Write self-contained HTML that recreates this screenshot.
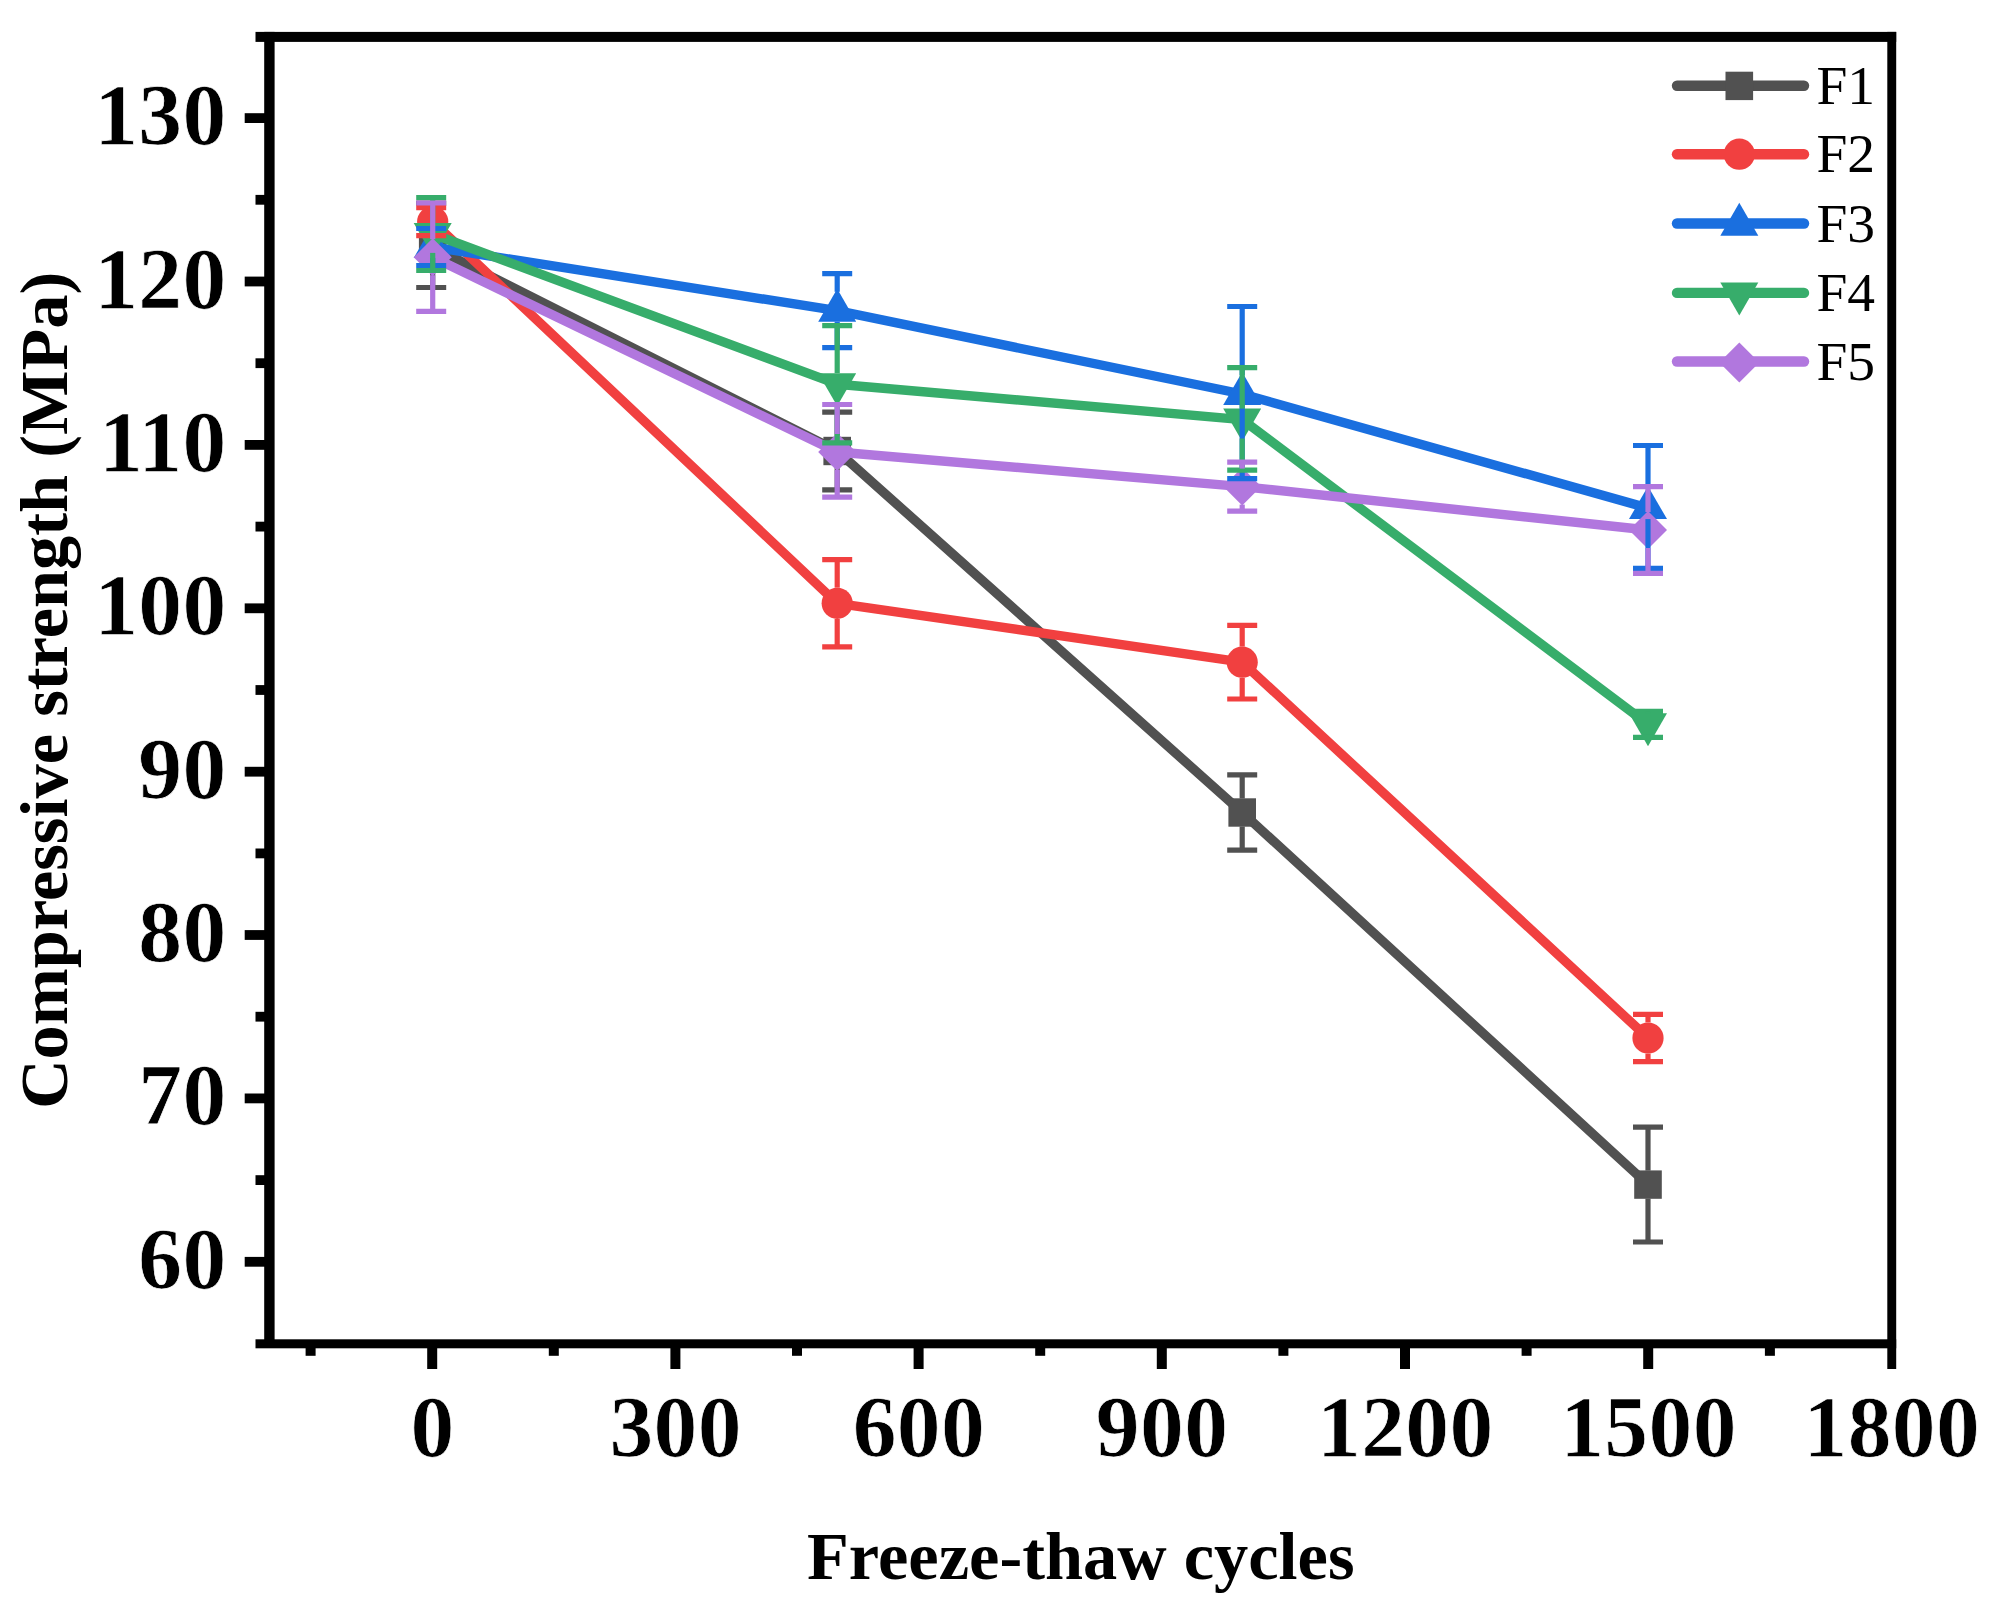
<!DOCTYPE html>
<html lang="en"><head><meta charset="utf-8"><title>Compressive strength vs freeze-thaw cycles</title>
<style>
html,body{margin:0;padding:0;background:#ffffff;}
body{width:1996px;height:1616px;overflow:hidden;}
svg{display:block;font-family:"Liberation Serif","Times New Roman",serif;}
.tk{font-weight:bold;font-size:87.5px;letter-spacing:0.4px;fill:#000;stroke:#fff;stroke-width:0.7px;}
.ttl{font-weight:bold;fill:#000;}
.lg{font-size:55.5px;fill:#000;}
</style></head><body>
<svg width="1996" height="1616" viewBox="0 0 1996 1616">
<rect width="1996" height="1616" fill="#ffffff"/>
<g><polyline points="432.7,247.0 837.2,451.0 1242.2,812.5 1648.0,1184.6" fill="none" stroke="#515151" stroke-width="9.4" stroke-linejoin="round"/>
<rect x="418.9" y="232.8" width="27.6" height="28.4" fill="#515151"/>
<rect x="823.4" y="436.8" width="27.6" height="28.4" fill="#515151"/>
<rect x="1228.4" y="798.3" width="27.6" height="28.4" fill="#515151"/>
<rect x="1634.2" y="1170.4" width="27.6" height="28.4" fill="#515151"/>
</g>
<g stroke="#515151" fill="none">
<path stroke-width="5.2" d="M416.2,203.0H446.2M416.2,287.5H446.2"/>
<path stroke-width="5.2" d="M432.7,203.0V233.0"/>
<path stroke-width="5.2" d="M432.7,261.0V287.5"/>
<path stroke-width="5.2" d="M822.2,412.2H852.2M822.2,489.8H852.2"/>
<path stroke-width="5.2" d="M837.2,412.2V437.0"/>
<path stroke-width="5.2" d="M837.2,465.0V489.8"/>
<path stroke-width="5.2" d="M1227.2,774.9H1257.2M1227.2,850.1H1257.2"/>
<path stroke-width="5.2" d="M1242.2,774.9V798.5"/>
<path stroke-width="5.2" d="M1242.2,826.5V850.1"/>
<path stroke-width="5.2" d="M1633.0,1127.2H1663.0M1633.0,1242.0H1663.0"/>
<path stroke-width="5.2" d="M1648.0,1127.2V1170.6"/>
<path stroke-width="5.2" d="M1648.0,1198.6V1242.0"/>
</g>
<g><polyline points="432.7,221.7 837.2,603.3 1242.2,662.2 1648.0,1038.0" fill="none" stroke="#F14040" stroke-width="9.4" stroke-linejoin="round"/>
<circle cx="432.7" cy="221.7" r="15.6" fill="#F14040"/>
<circle cx="837.2" cy="603.3" r="15.6" fill="#F14040"/>
<circle cx="1242.2" cy="662.2" r="15.6" fill="#F14040"/>
<circle cx="1648.0" cy="1038.0" r="15.6" fill="#F14040"/>
</g>
<g><polyline points="432.7,247.0 837.2,310.7 1242.2,394.0 1648.0,508.1" fill="none" stroke="#1A6FDF" stroke-width="9.4" stroke-linejoin="round"/>
<polygon points="432.7,225.1 451.7,258.0 413.7,258.0" fill="#1A6FDF"/>
<polygon points="837.2,288.8 856.2,321.7 818.2,321.7" fill="#1A6FDF"/>
<polygon points="1242.2,372.1 1261.2,405.0 1223.2,405.0" fill="#1A6FDF"/>
<polygon points="1648.0,486.2 1667.0,519.1 1629.0,519.1" fill="#1A6FDF"/>
</g>
<g><polyline points="432.7,234.0 837.2,384.2 1242.2,419.6 1648.0,724.3" fill="none" stroke="#37AD6B" stroke-width="9.4" stroke-linejoin="round"/>
<polygon points="432.7,255.9 451.7,223.0 413.7,223.0" fill="#37AD6B"/>
<polygon points="837.2,406.1 856.2,373.2 818.2,373.2" fill="#37AD6B"/>
<polygon points="1242.2,441.5 1261.2,408.6 1223.2,408.6" fill="#37AD6B"/>
<polygon points="1648.0,746.2 1667.0,713.3 1629.0,713.3" fill="#37AD6B"/>
</g>
<g><polyline points="432.7,257.2 837.2,452.0 1242.2,486.6 1648.0,530.0" fill="none" stroke="#B177DE" stroke-width="9.4" stroke-linejoin="round"/>
<polygon points="432.7,238.2 451.7,257.2 432.7,276.2 413.7,257.2" fill="#B177DE"/>
<polygon points="837.2,433.0 856.2,452.0 837.2,471.0 818.2,452.0" fill="#B177DE"/>
<polygon points="1242.2,467.6 1261.2,486.6 1242.2,505.6 1223.2,486.6" fill="#B177DE"/>
<polygon points="1648.0,511.0 1667.0,530.0 1648.0,549.0 1629.0,530.0" fill="#B177DE"/>
</g>
<g stroke="#F14040" fill="none">
<path stroke-width="5.2" d="M416.2,207.7H446.2M416.2,235.7H446.2"/>
<path stroke-width="5.2" d="M822.2,559.7H852.2M822.2,646.9H852.2"/>
<path stroke-width="5.2" d="M837.2,559.7V587.7"/>
<path stroke-width="5.2" d="M837.2,618.9V646.9"/>
<path stroke-width="5.2" d="M1227.2,625.4H1257.2M1227.2,699.0H1257.2"/>
<path stroke-width="5.2" d="M1242.2,625.4V646.6"/>
<path stroke-width="5.2" d="M1242.2,677.8V699.0"/>
<path stroke-width="5.2" d="M1633.0,1014.4H1663.0M1633.0,1061.6H1663.0"/>
<path stroke-width="5.2" d="M1648.0,1014.4V1022.4"/>
<path stroke-width="5.2" d="M1648.0,1053.6V1061.6"/>
</g>
<g stroke="#1A6FDF" fill="none">
<path stroke-width="5.2" d="M416.2,228.5H446.2M416.2,265.5H446.2"/>
<path stroke-width="5.2" d="M432.7,258.0V265.5"/>
<path stroke-width="5.2" d="M822.2,273.7H852.2M822.2,347.7H852.2"/>
<path stroke-width="5.2" d="M837.2,273.7V291.8"/>
<path stroke-width="5.2" d="M837.2,321.7V347.7"/>
<path stroke-width="5.2" d="M1227.2,306.5H1257.2M1227.2,478.7H1257.2"/>
<path stroke-width="5.2" d="M1242.2,306.5V375.1"/>
<path stroke-width="5.2" d="M1242.2,405.0V478.7"/>
<path stroke-width="5.2" d="M1633.0,445.5H1663.0M1633.0,568.3H1663.0"/>
<path stroke-width="5.2" d="M1648.0,445.5V489.2"/>
<path stroke-width="5.2" d="M1648.0,519.1V568.3"/>
</g>
<g stroke="#37AD6B" fill="none">
<path stroke-width="5.2" d="M416.2,197.5H446.2M416.2,270.5H446.2"/>
<path stroke-width="5.2" d="M432.7,197.5V223.0"/>
<path stroke-width="5.2" d="M432.7,252.9V270.5"/>
<path stroke-width="5.2" d="M822.2,325.6H852.2M822.2,442.8H852.2"/>
<path stroke-width="5.2" d="M837.2,325.6V373.2"/>
<path stroke-width="5.2" d="M837.2,403.1V442.8"/>
<path stroke-width="5.2" d="M1227.2,367.6H1257.2M1227.2,470.1H1257.2"/>
<path stroke-width="5.2" d="M1242.2,367.6V408.6"/>
<path stroke-width="5.2" d="M1242.2,438.5V470.1"/>
<path stroke-width="5.2" d="M1633.0,711.3H1663.0M1633.0,737.3H1663.0"/>
<path stroke-width="5.2" d="M1648.0,711.3V713.3"/>
</g>
<g stroke="#B177DE" fill="none">
<path stroke-width="5.2" d="M416.2,203.0H446.2M416.2,311.4H446.2"/>
<path stroke-width="5.2" d="M432.7,203.0V239.2"/>
<path stroke-width="5.2" d="M432.7,275.2V311.4"/>
<path stroke-width="5.2" d="M822.2,404.5H852.2M822.2,497.2H852.2"/>
<path stroke-width="5.2" d="M837.2,404.5V434.0"/>
<path stroke-width="5.2" d="M837.2,470.0V497.2"/>
<path stroke-width="5.2" d="M1227.2,462.1H1257.2M1227.2,511.1H1257.2"/>
<path stroke-width="5.2" d="M1242.2,462.1V468.6"/>
<path stroke-width="5.2" d="M1242.2,504.6V511.1"/>
<path stroke-width="5.2" d="M1633.0,486.6H1663.0M1633.0,573.4H1663.0"/>
<path stroke-width="5.2" d="M1648.0,486.6V512.0"/>
<path stroke-width="5.2" d="M1648.0,548.0V573.4"/>
</g>
<g fill="#000">
<rect x="255.5" y="31.9" width="1640.7" height="10"/>
<rect x="255.5" y="1339.3" width="1640.7" height="9"/>
<rect x="264.2" y="31.9" width="10.4" height="1315.8"/>
<rect x="1887.3" y="31.9" width="8.9" height="1337.1"/>
<rect x="244.7" y="1256.9" width="22" height="9.8"/>
<rect x="244.7" y="1093.5" width="22" height="9.8"/>
<rect x="244.7" y="930.1" width="22" height="9.8"/>
<rect x="244.7" y="766.8" width="22" height="9.8"/>
<rect x="244.7" y="603.4" width="22" height="9.8"/>
<rect x="244.7" y="440.0" width="22" height="9.8"/>
<rect x="244.7" y="276.6" width="22" height="9.8"/>
<rect x="244.7" y="113.2" width="22" height="9.8"/>
<rect x="255.5" y="1175.2" width="12" height="9.8"/>
<rect x="255.5" y="1011.8" width="12" height="9.8"/>
<rect x="255.5" y="848.5" width="12" height="9.8"/>
<rect x="255.5" y="685.1" width="12" height="9.8"/>
<rect x="255.5" y="521.7" width="12" height="9.8"/>
<rect x="255.5" y="358.3" width="12" height="9.8"/>
<rect x="255.5" y="194.9" width="12" height="9.8"/>
<rect x="427.2" y="1343.7" width="10" height="25.3"/>
<rect x="670.4" y="1343.7" width="10" height="25.3"/>
<rect x="913.6" y="1343.7" width="10" height="25.3"/>
<rect x="1156.8" y="1343.7" width="10" height="25.3"/>
<rect x="1400.0" y="1343.7" width="10" height="25.3"/>
<rect x="1643.2" y="1343.7" width="10" height="25.3"/>
<rect x="305.6" y="1343.7" width="10" height="12.1"/>
<rect x="548.8" y="1343.7" width="10" height="12.1"/>
<rect x="792.0" y="1343.7" width="10" height="12.1"/>
<rect x="1035.2" y="1343.7" width="10" height="12.1"/>
<rect x="1278.4" y="1343.7" width="10" height="12.1"/>
<rect x="1521.6" y="1343.7" width="10" height="12.1"/>
<rect x="1764.9" y="1343.7" width="10" height="12.1"/>
</g>
<g class="tk" text-anchor="end">
<text x="226.6" y="1287.8">60</text>
<text x="226.6" y="1124.4">70</text>
<text x="226.6" y="961.0">80</text>
<text x="226.6" y="797.7">90</text>
<text x="226.6" y="634.3">100</text>
<text x="226.6" y="470.9">110</text>
<text x="226.6" y="307.5">120</text>
<text x="226.6" y="144.1">130</text>
</g>
<g class="tk" text-anchor="middle">
<text x="432.5" y="1455.6">0</text>
<text x="675.7" y="1455.6">300</text>
<text x="918.9" y="1455.6">600</text>
<text x="1162.1" y="1455.6">900</text>
<text x="1405.3" y="1455.6">1200</text>
<text x="1648.5" y="1455.6">1500</text>
<text x="1891.8" y="1455.6">1800</text>
</g>
<text class="ttl" id="xt" font-size="68.4" x="1080.8" y="1578.6" text-anchor="middle">Freeze-thaw cycles</text>
<text class="ttl" id="yt" font-size="68.4" transform="translate(66.8,690.3) rotate(-90)" text-anchor="middle">Compressive strength (MPa)</text>
<line x1="1677" y1="85.7" x2="1804" y2="85.7" stroke="#515151" stroke-width="10.4" stroke-linecap="round"/>
<rect x="1725.5" y="71.7" width="27.6" height="28.4" fill="#515151"/>
<text class="lg" x="1816.5" y="103.7">F1</text>
<line x1="1677" y1="154.2" x2="1804" y2="154.2" stroke="#F14040" stroke-width="10.4" stroke-linecap="round"/>
<circle cx="1739.3" cy="154.2" r="15.6" fill="#F14040"/>
<text class="lg" x="1816.5" y="172.2">F2</text>
<line x1="1677" y1="223.5" x2="1804" y2="223.5" stroke="#1A6FDF" stroke-width="10.4" stroke-linecap="round"/>
<polygon points="1739.3,202.8 1758.3,235.7 1720.3,235.7" fill="#1A6FDF"/>
<text class="lg" x="1816.5" y="241.5">F3</text>
<line x1="1677" y1="292.9" x2="1804" y2="292.9" stroke="#37AD6B" stroke-width="10.4" stroke-linecap="round"/>
<polygon points="1739.3,315.5 1758.3,282.6 1720.3,282.6" fill="#37AD6B"/>
<text class="lg" x="1816.5" y="310.9">F4</text>
<line x1="1677" y1="361.5" x2="1804" y2="361.5" stroke="#B177DE" stroke-width="10.4" stroke-linecap="round"/>
<polygon points="1739.3,342.4 1759.3,362.4 1739.3,382.4 1719.3,362.4" fill="#B177DE"/>
<text class="lg" x="1816.5" y="379.5">F5</text>
</svg></body></html>
